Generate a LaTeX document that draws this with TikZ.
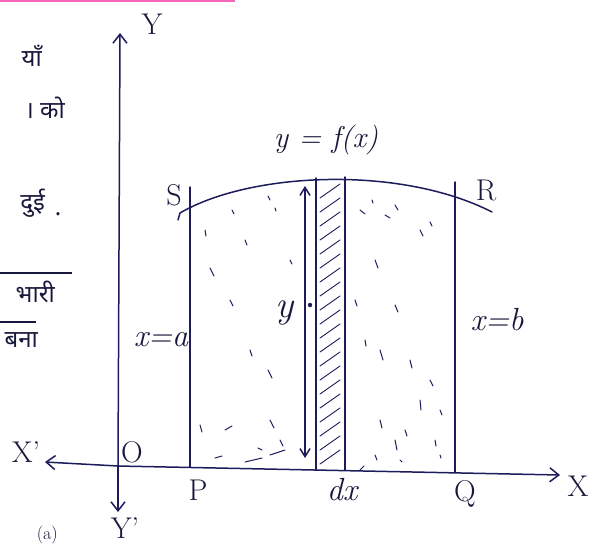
\documentclass[tikz,border=0pt]{standalone}
\usepackage{fontspec}
\newfontfamily\deva[Script=Devanagari]{Noto Sans}
\usetikzlibrary{arrows.meta}
\definecolor{ink}{HTML}{1C1C5C}
\definecolor{txt}{HTML}{18183C}
\begin{document}
\begin{tikzpicture}[x=1pt,y=-1pt,
  line/.style={ink, line width=1.5pt, line cap=round},
  axis/.style={line, -{Straight Barb[length=9pt,width=14pt]}},
  lbl/.style={txt, font=\fontsize{30}{34}\selectfont, inner sep=0pt},
  ilbl/.style={txt, font=\fontsize{32}{36}\selectfont\itshape, inner sep=0pt},
  hin/.style={txt, font=\deva\fontsize{24}{28}\selectfont, inner sep=0pt},
  stip/.style={ink, line width=1pt, line cap=round},
  hatch/.style={ink, line width=0.9pt, line cap=round}]
\useasboundingbox (0,0) rectangle (604,547);
\clip (0,0) rectangle (604,547);
\fill[white] (0,0) rectangle (604,547);
\fill[magenta!60] (0,0) rectangle (235,2);

% key points
\coordinate (O) at (118,466);
\coordinate (Ytop) at (120,33);
\coordinate (Ybot) at (118,512);
\coordinate (Xleft) at (45,462);
\coordinate (Xright) at (560,475);
\coordinate (Pb) at (190,467);
\coordinate (Pt) at (190,187);
\coordinate (Qb) at (455,472);
\coordinate (Qt) at (455,182);
\coordinate (Sc) at (180,213);
\coordinate (Rc) at (492,212);
\coordinate (Lb) at (316,470);
\coordinate (Lt) at (316,178);
\coordinate (Rb) at (345,470);
\coordinate (Rt) at (345,177);
\coordinate (Ab) at (305,458);
\coordinate (At) at (305,186);

% axes
\draw[axis] (O) -- (Ytop);
\draw[axis] (O) -- (Ybot);
\draw[axis] (O) -- (Xleft);
\draw[axis] (O) -- (Xright);

% verticals
\draw[line] (Pb) -- (Pt);
\draw[line] (Qb) -- (Qt);
\draw[line] (Lb) -- (Lt);
\draw[line] (Rb) -- (Rt);

% curve
\draw[line] (178,220) -- (Sc) .. controls (250,172) and (400,165) .. (Rc);

% hatching in strip
\foreach \yy in {192,206,...,462}
  \draw[hatch] (320,\yy+6) -- (340,\yy-8);

% double arrow y
\draw[line, {Straight Barb[length=8pt,width=10pt]}-{Straight Barb[length=8pt,width=10pt]}] (Ab) -- (At);
\fill[ink] (310,305) circle (2.2pt);

% stippling
\foreach \a/\b/\c/\d in {
  205/230/206/236, 232/210/234/214, 268/196/270/200, 275/208/276/211,
  210/268/214/276, 230/300/233/306, 250/350/252/356, 268/370/272/378,
  270/420/274/428, 225/430/232/426, 258/448/262/450, 280/440/283/446,
  215/458/222/456, 245/462/262/458, 270/455/285/450, 200/425/202/432,
  360/210/365/214, 372/200/373/203, 385/215/390/218, 395/205/398/210,
  420/230/423/236, 430/222/432/226, 375/260/378/268, 355/300/357/306,
  395/305/398/312, 365/340/366/346, 380/350/383/360, 410/360/412/368,
  420/400/421/410, 430/380/433/386, 380/420/382/428, 395/440/397/450,
  405/430/407/436, 435/440/436/446, 440/455/441/458, 375/455/377/460,
  400/460/402/462, 440/410/442/415, 245/240/247/245, 290/260/292/264,
  360/470/364/466}
  \draw[stip] (\a,\b) -- (\c,\d);

% labels
\node[lbl] (lY) at (152,24) {Y};
\node[lbl] (lY2) at (125,528) {Y'};
\node[lbl] (lX) at (578,486) {X};
\node[lbl] (lX2) at (26,452) {X'};
\node[lbl] (lO) at (132,452) {O};
\node[lbl] (lP) at (198,490) {P};
\node[lbl] (lQ) at (465,494) {Q};
\node[ilbl] (ldx) at (342,490) {dx};
\node[lbl] (lS) at (174,195) {S};
\node[lbl] (lR) at (486,190) {R};
\node[ilbl, font=\fontsize{30}{34}\selectfont\itshape] (lf) at (326,140) {y = f(x)};
\node[ilbl] (la) at (161,340) {x=a};
\node[ilbl] (lb) at (497,320) {x=b};
\node[ilbl, font=\fontsize{38}{40}\selectfont\itshape] (ly) at (285,313) {y};

% Hindi fragments at left edge
\node[hin, anchor=east] (h1) at (42,56) {याँ};
\node[hin, anchor=east] (h2) at (65,108) {। को};
\node[hin, anchor=east] (h3) at (45,203) {दुई};
\node[hin] (h3b) at (58,214) {.};
\draw[txt, line width=1.2pt] (0,273) -- (72,273);
\node[hin, anchor=east] (h4) at (55,292) {भारी};
\draw[txt, line width=1.2pt] (0,322) -- (36,322);
\node[hin, anchor=east] (h5) at (38,340) {बना};
\node[lbl, font=\fontsize{18}{20}\selectfont, anchor=east] (h6) at (58,535) {(a)};
\end{tikzpicture}
\end{document}
